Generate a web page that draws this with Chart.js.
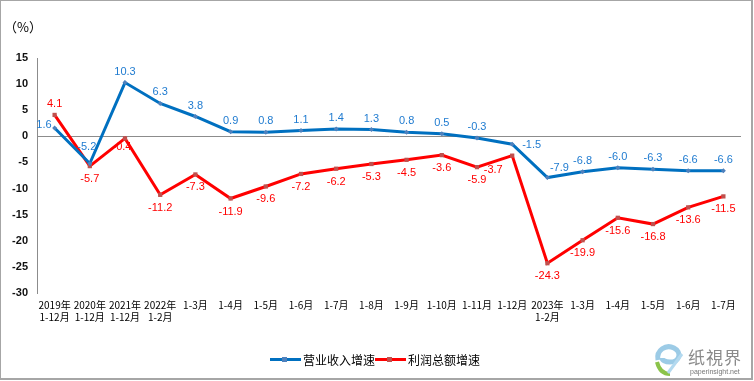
<!DOCTYPE html>
<html>
<head>
<meta charset="utf-8">
<script src="https://cdn.jsdelivr.net/npm/chart.js@4/dist/chart.umd.min.js"></script>
<style>
  html,body{margin:0;padding:0;background:#fff;}
  #wrap{position:relative;width:754px;height:381px;overflow:hidden;font-family:"Noto Sans CJK SC","Liberation Sans",sans-serif;}
  #frame{position:absolute;left:0;top:0;width:750px;height:377px;border:1px solid #a6a6a6;border-right:2px solid #a6a6a6;border-bottom:2px solid #a6a6a6;}
  #chart{position:absolute;left:0;top:0;}
  #unit{position:absolute;left:4px;top:17px;font-size:13px;color:#000;}
  #legend{position:absolute;left:270px;top:351px;font-size:12px;color:#000;display:flex;align-items:center;}
  .item{display:flex;align-items:center;}
  .sw{position:relative;width:31px;height:3px;margin-right:2px;}
  .sw i{position:absolute;left:12px;top:-1px;width:5px;height:5px;}
  #logo{position:absolute;left:652px;top:340px;width:98px;height:38px;}
</style>
</head>
<body>
<div id="wrap">
  <canvas id="chart" width="754" height="381"></canvas>
  <div id="frame"></div>
  <div id="unit">（%）</div>
  <div id="legend"></div>
  <svg id="logo" viewBox="0 0 98 38">
    <path d="M6 20 C4 10 14 4 22 8 C30 12 28 22 18 22 C13 22 10 20 10 18" fill="none" stroke="#9ccbe6" stroke-width="5"/>
    <path d="M5 22 C7 30 12 34 18 34" fill="none" stroke="#8bc34a" stroke-width="4"/>
    <path d="M16 33 L30 14" fill="none" stroke="#b3d9ef" stroke-width="3"/>
    <text x="36" y="24" font-size="17" fill="#8a8a8a" font-family="Noto Sans CJK SC" letter-spacing="1">纸視界</text>
    <text x="38" y="34" font-size="7" fill="#777" font-family="Liberation Sans">paperinsight.net</text>
  </svg>
</div>
<script>
const categories = [
  ['2019年','1-12月'], ['2020年','1-12月'], ['2021年','1-12月'], ['2022年','1-2月'],
  '1-3月','1-4月','1-5月','1-6月','1-7月','1-8月','1-9月','1-10月','1-11月','1-12月',
  ['2023年','1-2月'], '1-3月','1-4月','1-5月','1-6月','1-7月'
];
const revenueName = '营业收入增速';
const revenue = [1.6, -5.2, 10.3, 6.3, 3.8, 0.9, 0.8, 1.1, 1.4, 1.3, 0.8, 0.5, -0.3, -1.5, -7.9, -6.8, -6.0, -6.3, -6.6, -6.6];
const profitName = '利润总额增速';
const profit = [4.1, -5.7, -0.4, -11.2, -7.3, -11.9, -9.6, -7.2, -6.2, -5.3, -4.5, -3.6, -5.9, -3.7, -24.3, -19.9, -15.6, -16.8, -13.6, -11.5];
const yTicks = {min: -30, max: 15, step: 5};

// where each value label sits relative to its point
const revenueAnchor = ['l','tl','t','t','t','t','t','t','t','t','t','t','t','r','tr','t','t','t','t','t'];
const profitAnchor  = ['t','b','bs','b','b','b','b','b','b','b','b','b','b','bl','b','b','b','b','b','b'];

const BLUE = '#0070c0', BLUE_PT = '#4f81bd', BLUE_TXT = '#1f7bd0';
const RED = '#ff0000', RED_PT = '#c0504d', RED_TXT = '#ff0000';

// legend
function legendItem(name, line, pt){
  const d = document.createElement('div');
  d.className = 'item';
  d.innerHTML = `<span class="sw" style="background:${line}"><i style="background:${pt}"></i></span><span>${name}</span>`;
  return d;
}
const lg = document.getElementById('legend');
lg.appendChild(legendItem(revenueName, BLUE, BLUE_PT));
lg.appendChild(legendItem(profitName, RED, RED_PT));

const valueLabels = {
  id: 'valueLabels',
  afterDatasetsDraw(chart){
    const ctx = chart.ctx;
    ctx.save();
    ctx.font = '11px "Liberation Sans", Arial, sans-serif';
    chart.data.datasets.forEach((ds, di) => {
      const meta = chart.getDatasetMeta(di);
      ctx.fillStyle = ds.labelColor;
      meta.data.forEach((p, i) => {
        const a = ds.anchors[i];
        const txt = ds.data[i].toFixed(1);
        let x = p.x, y = p.y;
        ctx.textAlign = 'center'; ctx.textBaseline = 'middle';
        if (a === 't') y -= 11;
        else if (a === 'b') y += 13;
        else if (a === 'bs') { x -= 3; y += 9; }
        else if (a === 'l') { ctx.textAlign = 'right'; x -= 3; y -= 3; }
        else if (a === 'r') { ctx.textAlign = 'left'; x += 10; y += 1; }
        else if (a === 'tl') { x -= 3; y -= 17; }
        else if (a === 'tr') { x += 12; y -= 10; }
        else if (a === 'bl') { x -= 19; y += 14; }
        ctx.fillText(txt, x, y);
      });
    });
    ctx.restore();
  }
};

new Chart(document.getElementById('chart'), {
  type: 'line',
  data: {
    labels: categories,
    datasets: [
      {label: revenueName, data: revenue, borderColor: BLUE, borderWidth: 3,
       pointStyle: 'rectRot', pointRadius: 2.5, pointBackgroundColor: BLUE_PT, pointBorderColor: BLUE_PT, pointBorderWidth: 0,
       tension: 0, labelColor: BLUE_TXT, anchors: revenueAnchor},
      {label: profitName, data: profit, borderColor: RED, borderWidth: 3,
       pointStyle: 'rect', pointRadius: 3, pointBackgroundColor: RED_PT, pointBorderColor: RED_PT, pointBorderWidth: 0,
       tension: 0, labelColor: RED_TXT, anchors: profitAnchor}
    ]
  },
  options: {
    responsive: false,
    animation: false,
    layout: {padding: {left: 0, top: 58, right: 13, bottom: 48}},
    plugins: {legend: {display: false}, tooltip: {enabled: false}},
    scales: {
      x: {
        offset: true,
        grid: {display: false, drawTicks: false},
        border: {display: false},
        ticks: {color: '#000', font: {size: 10, family: '"Noto Sans CJK SC", sans-serif'}, padding: 6, maxRotation: 0, autoSkip: false},
        afterFit: s => { s.height = 40; }
      },
      y: {
        min: yTicks.min, max: yTicks.max,
        grid: {drawTicks: false, color: c => c.tick && c.tick.value === 0 ? '#8c8c8c' : 'rgba(0,0,0,0)', lineWidth: 1},
        border: {display: true, color: '#8c8c8c'},
        ticks: {stepSize: yTicks.step, color: '#111', padding: 9, font: {size: 11, weight: 'bold', family: '"Liberation Sans", Arial, sans-serif'}},
        afterFit: s => { s.width = 37; }
      }
    }
  },
  plugins: [valueLabels]
});
</script>
</body>
</html>
